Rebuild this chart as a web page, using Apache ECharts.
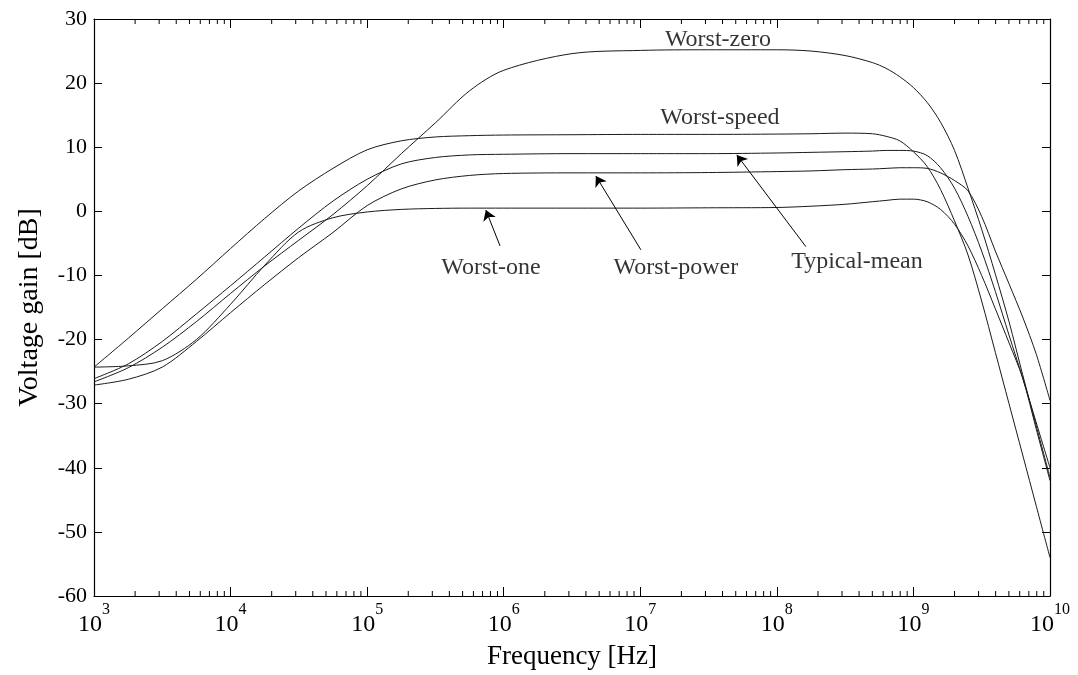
<!DOCTYPE html>
<html>
<head>
<meta charset="utf-8">
<script src="https://cdn.jsdelivr.net/npm/echarts@6/dist/echarts.min.js"></script>
<style>
html,body{margin:0;padding:0;background:#fff;}
#chart{width:1078px;height:675px;}
</style>
</head>
<body>
<div id="chart"></div>
<script>
// Frequency grid (Hz)
const freqHz = [1e3, 1.78e3, 3.16e3, 5.62e3, 1e4, 1.78e4, 3.16e4, 5.62e4, 1e5, 1.78e5, 3.16e5, 5.62e5,
  1e6, 3.16e6, 1e7, 3.16e7, 1e8, 1.78e8, 3.16e8, 5.01e8, 6.31e8, 7.94e8, 1e9, 1.26e9, 1.58e9,
  2.0e9, 2.51e9, 3.16e9, 3.98e9, 5.01e9, 6.31e9, 7.94e9, 1e10];

// Voltage gain (dB) per corner
const worstSpeed = [-24.3, -19.8, -15.2, -10.6, -5.8, -1.1, 3.2, 6.7, 9.6, 11.0, 11.6, 11.8,
  11.9, 11.95, 12.0, 12.0, 12.05, 12.1, 12.2, 12.1, 11.7, 11.0, 9.3, 7.0, 3.4,
  -1.5, -6.8, -14.0, -22.0, -30.0, -38.0, -46.0, -54.0];
const worstOne = [-24.3, -24.1, -23.3, -20.0, -14.5, -8.4, -3.2, -1.0, -0.1, 0.3, 0.45, 0.5,
  0.5, 0.5, 0.5, 0.55, 0.6, 0.8, 1.1, 1.5, 1.7, 1.9, 1.9, 1.5, 0.3,
  -2.0, -5.4, -10.0, -15.2, -20.5, -26.0, -34.0, -42.0];
const typicalMean = [-26.1, -23.8, -20.3, -16.0, -11.6, -7.1, -2.6, 1.6, 5.0, 7.4, 8.4, 8.8,
  8.9, 9.0, 9.0, 9.0, 9.1, 9.2, 9.3, 9.4, 9.5, 9.5, 9.4, 8.7, 6.8,
  3.6, -0.8, -6.2, -12.5, -19.3, -26.0, -33.0, -40.0];
const worstZero = [-26.6, -24.4, -21.2, -17.2, -12.8, -8.5, -4.5, -0.5, 4.0, 9.0, 13.8, 18.8,
  22.0, 24.6, 25.1, 25.2, 25.2, 25.0, 24.3, 23.2, 22.3, 21.0, 19.3, 17.0, 13.9,
  9.5, 3.6, -2.8, -9.8, -17.2, -25.5, -33.5, -41.5];
const worstPower = [-27.1, -26.2, -24.3, -20.3, -15.8, -11.4, -7.2, -3.3, 0.9, 3.5, 4.9, 5.6,
  5.9, 6.0, 6.0, 6.05, 6.2, 6.3, 6.5, 6.6, 6.7, 6.8, 6.8, 6.7, 6.0,
  4.8, 3.2, -0.8, -6.2, -11.3, -16.5, -22.3, -29.5];

// Curve annotations: label text, label position [Hz, dB]
const labelText = ['Worst-zero', 'Worst-speed', 'Worst-one', 'Worst-power', 'Typical-mean'];
const labelHz = [3.7e7, 3.83e7, 8.05e5, 1.82e7, 3.86e8];
const labelDb = [26.8, 14.6, -8.8, -8.8, -7.9];

// Arrows: tail [Hz, dB] -> head [Hz, dB]
const arrowTailHz = [9.4e5, 1.01e7, 1.63e8];
const arrowTailDb = [-5.4, -6.0, -5.5];
const arrowHeadHz = [7.4e5, 4.73e6, 5.09e7];
const arrowHeadDb = [0.2, 5.5, 8.8];

// Axis settings
const xMin = 1e3, xMax = 1e10;
const yMin = -60, yMax = 30, yStep = 10;

// minor log ticks (2..9 x 10^k)
const minorTicks = [];
for (let e = 3; e < 10; e++) {
  for (let k = 2; k <= 9; k++) minorTicks.push(k * Math.pow(10, e));
}

const FONT = 'Liberation Serif';
const LINE = '#1a1a1a';

function pairs(ys) { return freqHz.map((f, i) => [f, ys[i]]); }

function curve(name, ys) {
  return {
    name: name, type: 'line', data: pairs(ys), showSymbol: false, symbol: 'none',
    smooth: 0.3,
    lineStyle: { color: LINE, width: 1 }, silent: true, z: 3
  };
}

const chart = echarts.init(document.getElementById('chart'), null, { renderer: 'canvas' });

const commonX = {
  type: 'log', logBase: 10, min: xMin, max: xMax,
  axisLine: { show: true, onZero: false, lineStyle: { color: '#000', width: 1.2 } },
  axisTick: { show: true, inside: true, length: 9, lineStyle: { color: '#000', width: 1 } },
  splitLine: { show: false }
};
const commonY = {
  type: 'value', min: yMin, max: yMax, interval: yStep,
  axisLine: { show: true, onZero: false, lineStyle: { color: '#000', width: 1.2 } },
  axisTick: { show: true, inside: true, length: 8, lineStyle: { color: '#000', width: 1 } },
  splitLine: { show: false }
};

chart.setOption({
  animation: false,
  backgroundColor: '#fff',
  grid: { left: 94, right: 28, top: 19, bottom: 78, containLabel: false },
  xAxis: [
    Object.assign({}, commonX, {
      position: 'bottom',
      name: 'Frequency [Hz]', nameLocation: 'middle', nameGap: 47,
      nameTextStyle: { fontFamily: FONT, fontSize: 27, color: '#000' },
      axisLabel: {
        show: true, margin: 6, color: '#000', fontFamily: FONT,
        showMinLabel: true, showMaxLabel: true,
        formatter: function (v) { return '{b|10}{s|' + Math.round(Math.log10(v)) + '}'; },
        rich: {
          b: { fontFamily: FONT, fontSize: 24, color: '#000', padding: [11, 0, 0, 0], verticalAlign: 'bottom' },
          s: { fontFamily: FONT, fontSize: 16, color: '#000', verticalAlign: 'top' }
        }
      }
    }),
    Object.assign({}, commonX, { position: 'top', axisLabel: { show: false } })
  ],
  yAxis: [
    Object.assign({}, commonY, {
      position: 'left',
      name: 'Voltage gain [dB]', nameLocation: 'middle', nameGap: 50,
      nameTextStyle: { fontFamily: FONT, fontSize: 28, color: '#000' },
      axisLabel: { show: true, margin: 7, color: '#000', fontFamily: FONT, fontSize: 22 }
    }),
    Object.assign({}, commonY, { position: 'right', axisLabel: { show: false } })
  ],
  series: [
    curve('Worst-zero', worstZero),
    curve('Worst-speed', worstSpeed),
    curve('Typical-mean', typicalMean),
    curve('Worst-power', worstPower),
    curve('Worst-one', worstOne),
    {
      name: 'minor-ticks', type: 'custom', silent: true, z: 4,
      data: minorTicks.map(f => [f]),
      encode: { x: 0 },
      renderItem: function (params, api) {
        const f = api.value(0);
        const b = api.coord([f, yMin]);
        const t = api.coord([f, yMax]);
        const st = { stroke: '#000', lineWidth: 1 };
        return {
          type: 'group', children: [
            { type: 'line', shape: { x1: b[0], y1: b[1], x2: b[0], y2: b[1] - 5 }, style: st },
            { type: 'line', shape: { x1: t[0], y1: t[1], x2: t[0], y2: t[1] + 5 }, style: st }
          ]
        };
      }
    },
    {
      name: 'annotations', type: 'scatter', silent: true, z: 5,
      symbolSize: 1, itemStyle: { color: 'rgba(0,0,0,0)' },
      data: labelText.map((t, i) => ({ value: [labelHz[i], labelDb[i]], name: t })),
      label: {
        show: true, position: 'inside', color: '#000', fontFamily: FONT, fontSize: 24,
        formatter: function (p) { return p.name; }
      },
      markLine: {
        silent: true, animation: false,
        symbol: ['none', 'arrow'], symbolSize: 10,
        lineStyle: { color: '#000', width: 1, type: 'solid' },
        label: { show: false },
        emphasis: { disabled: true },
        data: arrowTailHz.map((f, i) => [
          { coord: [f, arrowTailDb[i]] },
          { coord: [arrowHeadHz[i], arrowHeadDb[i]] }
        ])
      }
    }
  ]
});
</script>
</body>
</html>
